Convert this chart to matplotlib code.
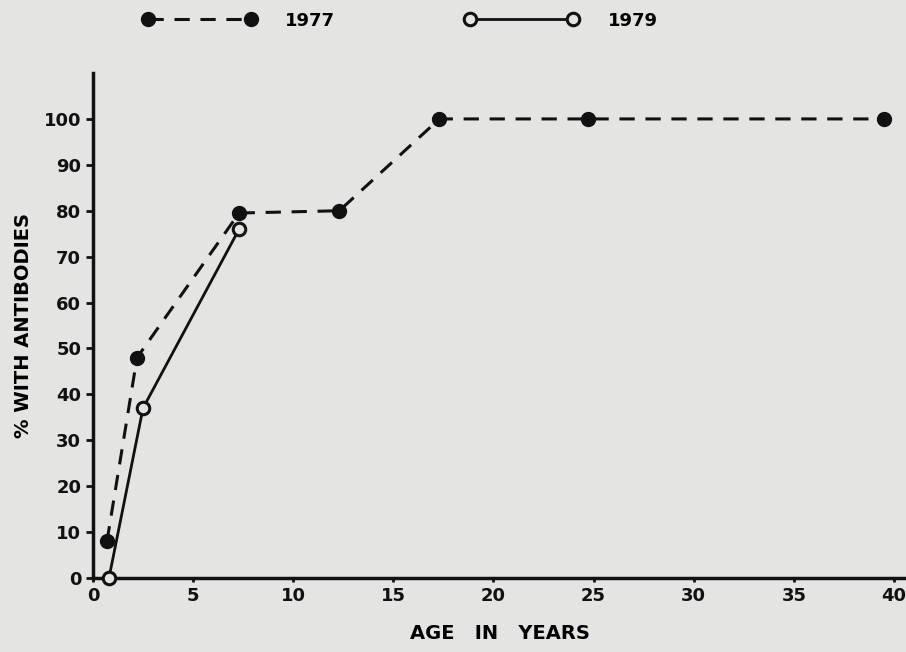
import matplotlib.pyplot as plt

age_1977 = [0.7, 2.2, 7.3, 12.3, 17.3, 24.7, 39.5]
pct_1977 = [8, 48, 79.5, 80, 100, 100, 100]
age_1979 = [0.8, 2.5, 7.3]
pct_1979 = [0, 37, 76]

xticks = [0, 5, 10, 15, 20, 25, 30, 35, 40]
yticks = [0, 10, 20, 30, 40, 50, 60, 70, 80, 90, 100]

bg = "#e4e4e2"
plt.rcParams["font.family"] = "DejaVu Sans"
plt.rcParams["font.weight"] = "bold"

fig = plt.figure(figsize=(9.06, 6.52), dpi=100, facecolor=bg)
ax = fig.add_axes([0.1026, 0.1135, 0.8974, 0.7745], facecolor=bg)

ax.plot(age_1977, pct_1977, color="#111111", ls=(0, (5, 3.5)), lw=2.2,
        marker="o", ms=10, mfc="#111111", mec="#111111", label="1977",
        clip_on=False, zorder=3)
ax.plot(age_1979, pct_1979, color="#111111", ls="-", lw=2,
        marker="o", ms=9, mfc=bg, mec="#111111", mew=2.2, label="1979",
        clip_on=False, zorder=4)

ax.set_xlim(0, 40.6)
ax.set_ylim(0, 110)
ax.set_xticks(xticks)
ax.set_yticks(yticks)
ax.tick_params(axis="both", labelsize=13, width=2, length=5, color="#111111",
               labelcolor="#111111")
ax.tick_params(axis="x", length=3)
for s in ["top", "right"]:
    ax.spines[s].set_visible(False)
for s in ["left", "bottom"]:
    ax.spines[s].set_linewidth(2.5)
    ax.spines[s].set_color("#111111")

ax.set_xlabel("AGE   IN   YEARS", fontsize=14, fontweight="bold", labelpad=14)
ax.set_ylabel("% WITH ANTIBODIES", fontsize=14, fontweight="bold", labelpad=8)

fig.legend(loc="upper left", bbox_to_anchor=(0.139, 1.007), ncol=2, frameon=False,
           numpoints=2, handlelength=6.3, handletextpad=1.6, columnspacing=7.2,
           fontsize=13, facecolor=bg)

plt.savefig("out.png", dpi=100, facecolor=bg)
